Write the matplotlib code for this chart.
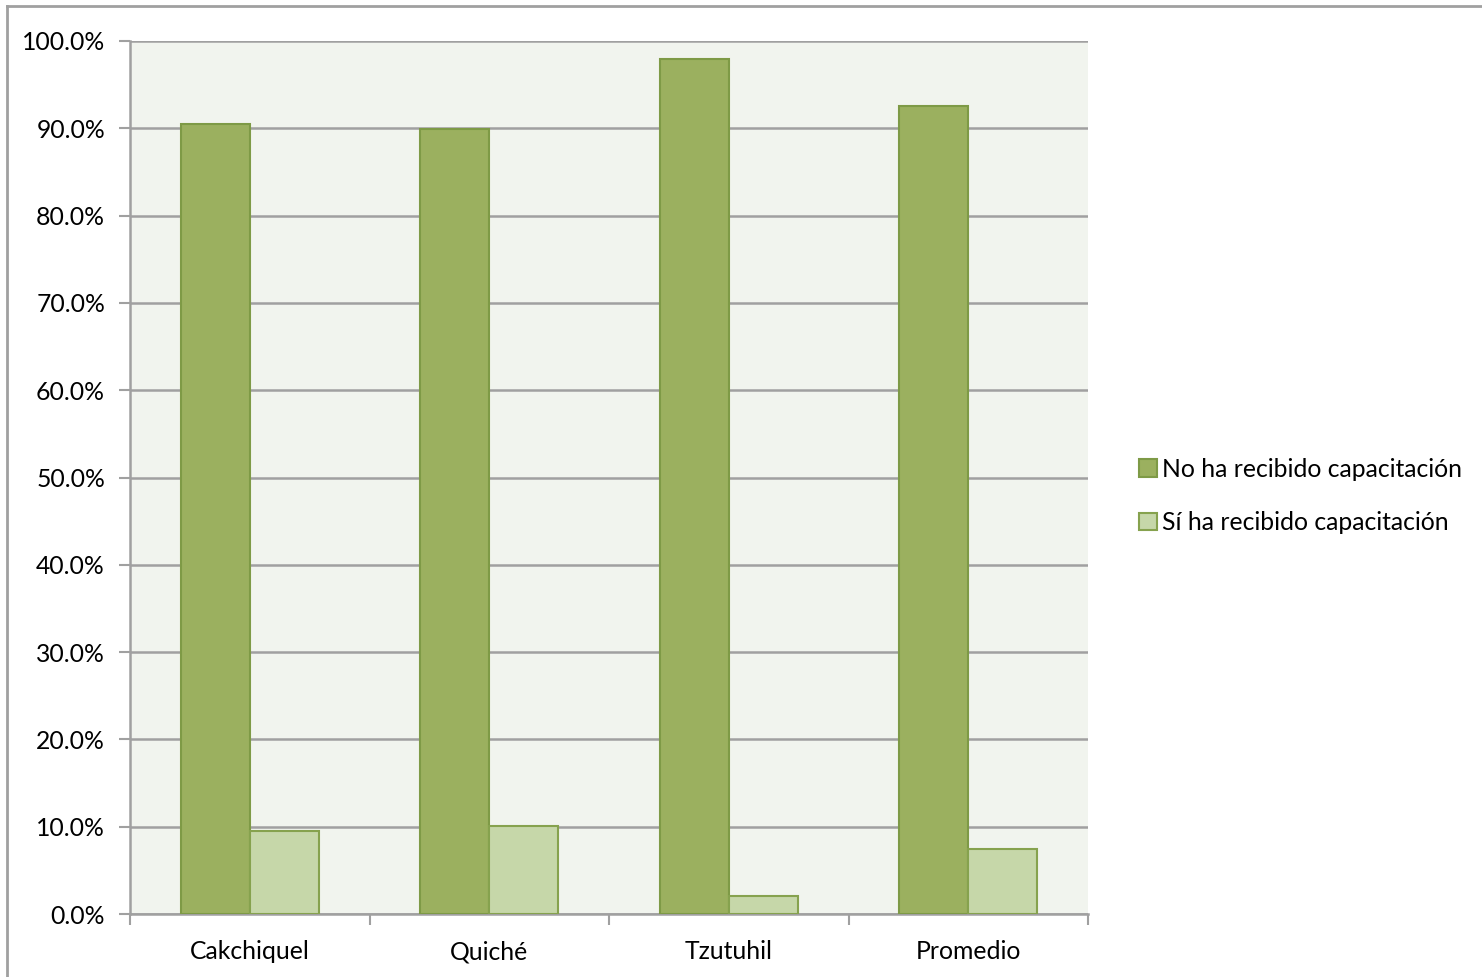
import matplotlib
matplotlib.use("Agg")
import matplotlib.pyplot as plt
import numpy as np
from matplotlib.lines import Line2D
from matplotlib.ticker import FuncFormatter, FixedLocator

plt.rcParams['font.family'] = ['Lato', 'DejaVu Sans']

categories = ["Cakchiquel", "Quiché", "Tzutuhil", "Promedio"]
no_capacitacion = [90.5, 89.9, 97.9, 92.5]
si_capacitacion = [9.5, 10.1, 2.1, 7.5]
series_labels = ["No ha recibido capacitación", "Sí ha recibido capacitación"]
y_ticks = [0, 10, 20, 30, 40, 50, 60, 70, 80, 90, 100]

W, H = 1482, 977
fig = plt.figure(figsize=(W / 100, H / 100), dpi=100)
ax = fig.add_axes([130 / W, 1 - 914 / H, (1088 - 130) / W, (914 - 41) / H])
ax.set_facecolor("#F1F4EE")

x = np.arange(len(categories))
bw = 0.288
dark = "#9BB05F"
dark_edge = "#7E9A46"
light = "#C6D7A9"
light_edge = "#86A24E"

b1 = ax.bar(x - bw / 2, no_capacitacion, bw, color=dark, edgecolor=dark_edge,
            linewidth=1.5, zorder=3, label=series_labels[0])
b2 = ax.bar(x + bw / 2, si_capacitacion, bw, color=light, edgecolor=light_edge,
            linewidth=1.5, zorder=3, label=series_labels[1])

ax.set_xlim(-0.5, len(categories) - 0.5)
ax.set_ylim(0, 100)
ax.yaxis.set_major_locator(FixedLocator(y_ticks))
ax.yaxis.set_major_formatter(FuncFormatter(lambda v, p: f"{v:.1f}%"))
ax.grid(axis="y", color="#A0A0A0", linewidth=1.8, zorder=1)
ax.set_axisbelow(True)

ax.set_xticks(x)
ax.set_xticklabels(categories)
ax.set_xticks(np.arange(-0.5, len(categories)), minor=True)
ax.tick_params(axis="x", which="major", length=0, pad=19, labelsize=17.8)
ax.tick_params(axis="x", which="minor", length=8, width=1.5, color="#A0A0A0")
ax.tick_params(axis="y", length=8, width=1.5, color="#A0A0A0", pad=10, labelsize=17.8)

for s in ["top", "right"]:
    ax.spines[s].set_visible(False)
for s in ["left", "bottom"]:
    ax.spines[s].set_color("#A0A0A0")
    ax.spines[s].set_linewidth(1.8)

leg = fig.legend(handles=[b1, b2], labels=series_labels, loc="center left",
                 bbox_to_anchor=(1117 / W, 1 - 496 / H), frameon=False,
                 fontsize=17.8, handlelength=0.7, handleheight=0.7,
                 handletextpad=0.2, labelspacing=1.25)

# figure border
fig.add_artist(Line2D([7 / W, 7 / W], [0, 1 - 6 / H], transform=fig.transFigure,
                      color="#A0A0A0", linewidth=2))
fig.add_artist(Line2D([7 / W, 1], [1 - 6 / H, 1 - 6 / H], transform=fig.transFigure,
                      color="#A0A0A0", linewidth=2))

fig.savefig("out.png", dpi=100, facecolor="white")
